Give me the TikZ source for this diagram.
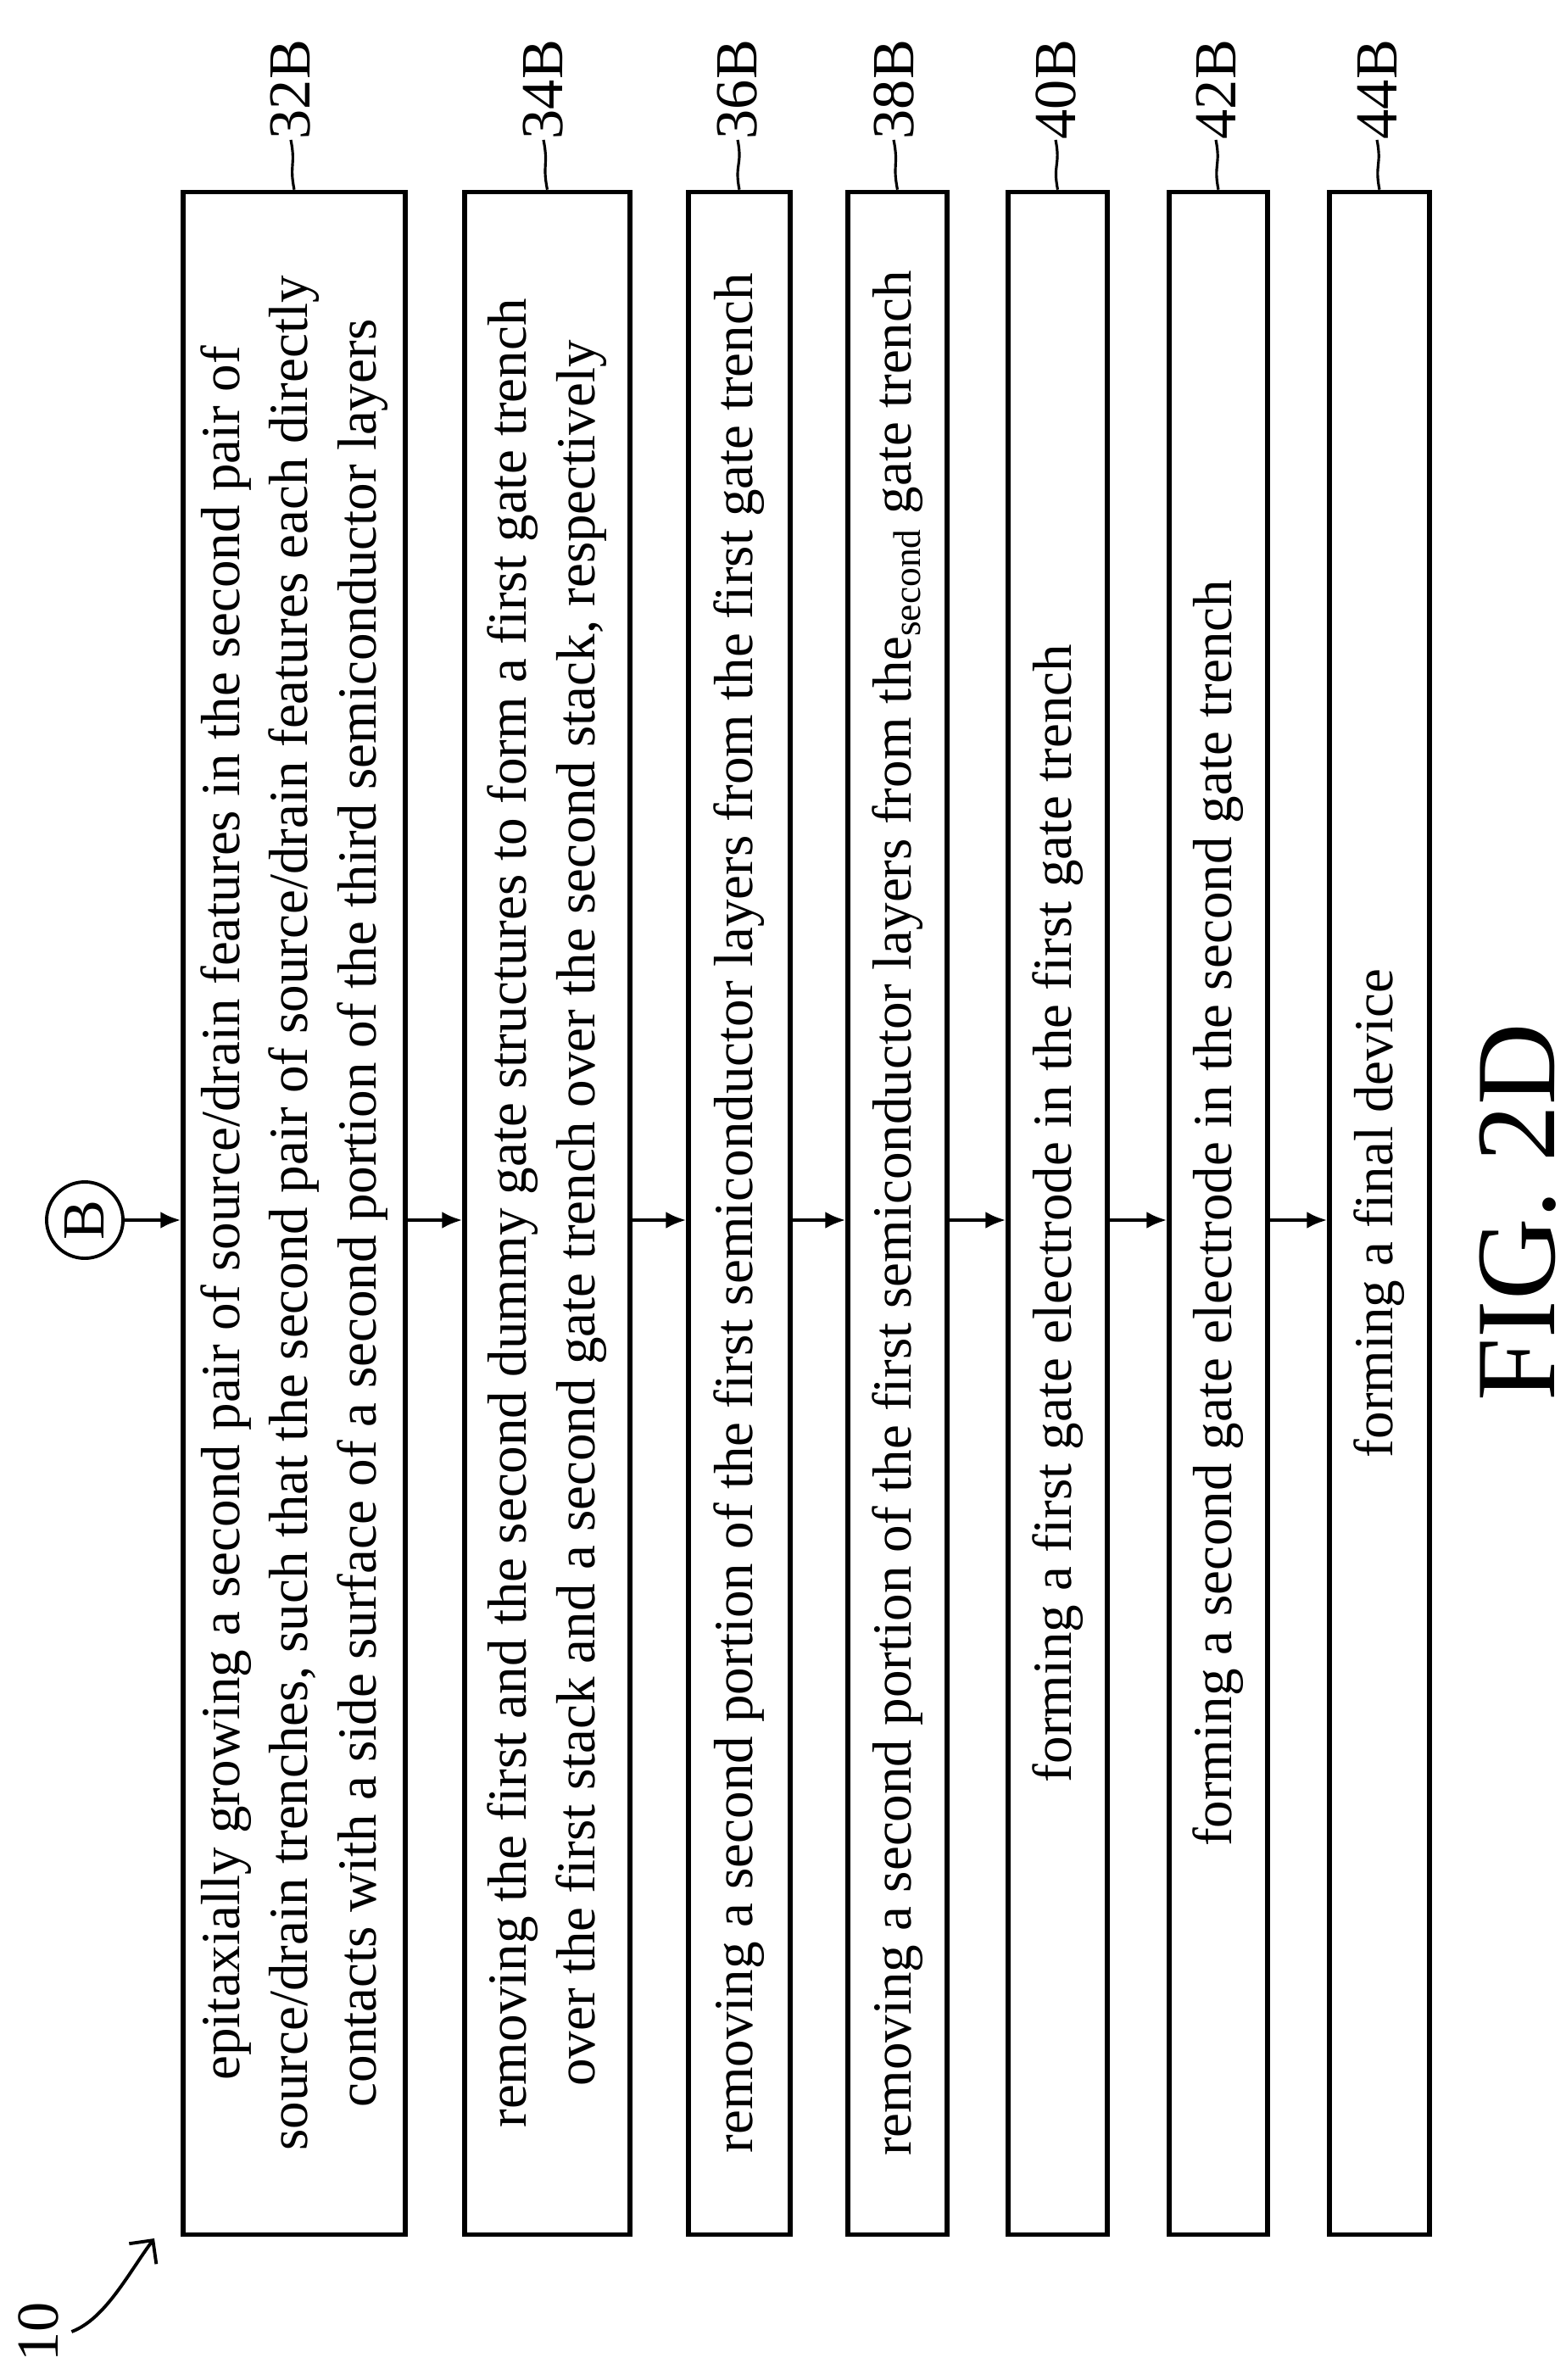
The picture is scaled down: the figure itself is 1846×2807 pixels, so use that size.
\documentclass[tikz,border=0pt]{standalone}
\usepackage{fontspec}
\setmainfont{Liberation Serif}
\usepackage{tikz}
\usetikzlibrary{positioning,arrows.meta}

\begin{document}
\begin{tikzpicture}[x=0.01cm, y=-0.01cm, >={Latex[length=0.24cm, width=0.2cm]}]
    \tikzstyle{stepbox} = [draw=black, line width=1.5pt, rotate=90, minimum width=24.08cm, align=center, inner sep=0pt, font=\fontsize{18.5}{23}\selectfont];
    \tikzstyle{tag} = [rotate=90, anchor=west, inner sep=0pt, font=\fontsize{20}{20}\selectfont];
    \tikzstyle{lead} = [line width=0.9pt];
    \useasboundingbox (0,0) rectangle (1846,2807);

    \node [stepbox, minimum height=2.62cm] (S32) at (347,1431) {epitaxially growing a second pair of source/drain features in the second pair of\\ source/drain trenches, such that the second pair of source/drain features each directly\\ contacts with a side surface of a second portion of the third semiconductor layers};
    \node [stepbox, minimum height=1.95cm] (S34) at (645.5,1431) {removing the first and the second dummy gate structures to form a first gate trench\\ over the first stack and a second gate trench over the second stack, respectively};
    \node [stepbox, minimum height=1.20cm] (S36) at (872,1431) {removing a second portion of the first semiconductor layers from the first gate trench};
    \node [stepbox, minimum height=1.17cm] (S38) at (1058.5,1431) {removing a second portion of the first semiconductor layers from the\textsubscript{second} gate trench};
    \node [stepbox, minimum height=1.17cm] (S40) at (1247.5,1431) {forming a first gate electrode in the first gate trench};
    \node [stepbox, minimum height=1.16cm] (S42) at (1437,1431) {forming a second gate electrode in the second gate trench};
    \node [stepbox, minimum height=1.18cm] (S44) at (1627,1431) {forming a final device};

    \node [draw, circle, line width=1.1pt, minimum size=0.9cm, inner sep=0pt, font=\fontsize{20}{20}\selectfont, rotate=90] (B) at (100,1439) {B};
    \coordinate (row) at (0,1439);

    % reference numerals
    \foreach \n/\x in {32/343, 34/641, 36/870, 38/1054, 40/1245, 42/1434, 44/1624} {
        \node [tag] (T\n) at (\x,165) {\n B};
        \draw [lead] (T\n.west) .. controls +(6,30) and +(-6,-30) .. (S\n.east);
    }

    \draw [->, line width=1.2pt] (B.south) -- (S32.north |- row);
    \draw [->, line width=1.2pt] (S32.south |- row) -- (S34.north |- row);
    \draw [->, line width=1.2pt] (S34.south |- row) -- (S36.north |- row);
    \draw [->, line width=1.2pt] (S36.south |- row) -- (S38.north |- row);
    \draw [->, line width=1.2pt] (S38.south |- row) -- (S40.north |- row);
    \draw [->, line width=1.2pt] (S40.south |- row) -- (S42.north |- row);
    \draw [->, line width=1.2pt] (S42.south |- row) -- (S44.north |- row);

    \node [rotate=90, inner sep=0pt, font=\fontsize{20}{20}\selectfont] (N10) at (45,2750) {10};
    \coordinate (P10) at (182,2640);
    \draw [->, line width=1.1pt, >={Straight Barb[length=0.2cm]}] (N10.south) ++(15,0) .. controls +(40,-15) and +(-30,40) .. (P10);

    \node [rotate=90, inner sep=0pt, font=\fontsize{38}{38}\selectfont] (FIG) at (1790,1430) {FIG. 2D};
\end{tikzpicture}
\end{document}
